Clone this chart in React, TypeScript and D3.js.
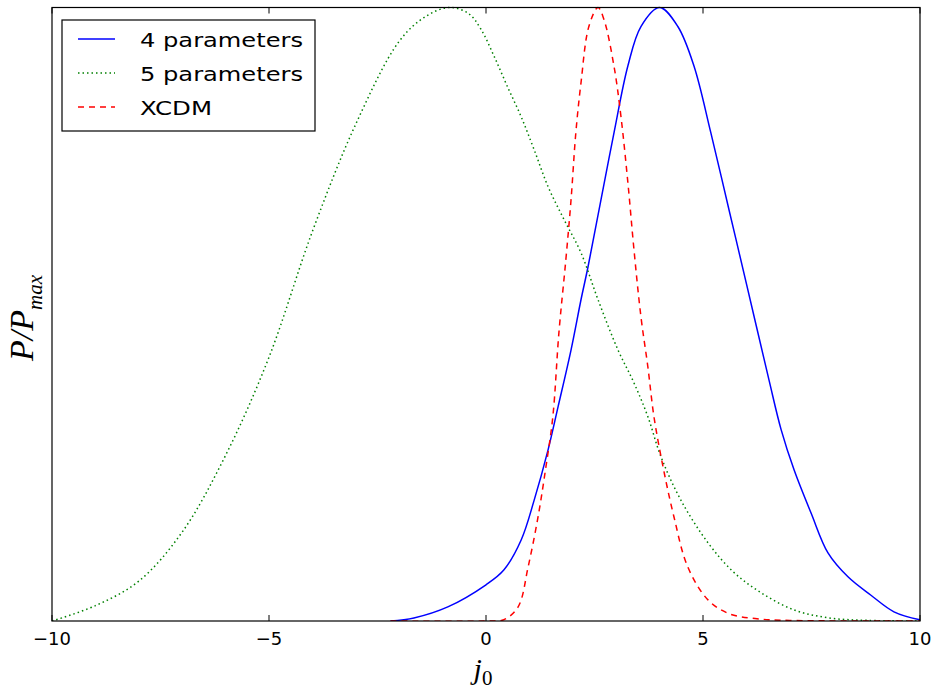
import React from 'react'
import * as d3 from 'd3'

// values: j0 and P/Pmax for each run
const fourParX = [-2.2, -1.66, -0.88, 0, 0.41, 0.81, 1.11, 1.43, 1.66, 1.96, 2.19, 2.35, 2.65, 2.95, 3.27, 3.57, 4.0, 4.42, 4.79, 5.18, 5.6, 6.0, 6.52, 6.8, 7.1, 7.49, 7.88, 8.34, 8.87, 9.4, 10]
const fourParP = [0, 0.005, 0.023, 0.059, 0.083, 0.132, 0.197, 0.279, 0.349, 0.442, 0.524, 0.577, 0.687, 0.796, 0.905, 0.969, 1, 0.969, 0.905, 0.796, 0.67, 0.55, 0.393, 0.312, 0.246, 0.176, 0.111, 0.072, 0.042, 0.015, 0.002]

const fiveParX = [-10, -9, -8, -7, -6, -5, -4, -3, -2, -1.4, -0.85, -0.4, -0.12, 0.19, 0.5, 0.81, 1.11, 1.43, 1.8, 2.19, 2.58, 3.04, 3.41, 3.73, 4.03, 4.49, 5.12, 5.7, 6.34, 7.1, 7.9, 8.8, 10]
const fiveParP = [0, 0.025, 0.065, 0.145, 0.27, 0.43, 0.635, 0.81, 0.945, 0.985, 1, 0.99, 0.965, 0.92, 0.87, 0.822, 0.768, 0.708, 0.654, 0.6, 0.524, 0.442, 0.388, 0.333, 0.268, 0.197, 0.127, 0.08, 0.046, 0.018, 0.005, 0.001, 0]

const xcdmX = [-2.2, 0, 0.41, 0.74, 0.97, 1.2, 1.38, 1.54, 1.68, 1.84, 1.96, 2.07, 2.19, 2.37, 2.58, 2.72, 2.95, 3.11, 3.27, 3.41, 3.57, 3.73, 3.87, 4.08, 4.33, 4.65, 5.12, 5.6, 6.2, 7, 10]
const xcdmP = [0, 0, 0.002, 0.023, 0.088, 0.17, 0.251, 0.333, 0.47, 0.589, 0.687, 0.796, 0.878, 0.969, 1, 0.98, 0.904, 0.822, 0.714, 0.605, 0.496, 0.414, 0.333, 0.251, 0.17, 0.088, 0.034, 0.012, 0.004, 0.001, 0]

const xTicks = [-10, -5, 0, 5, 10]
const seriesNames = ['4 parameters', '5 parameters', 'XCDM']
const legendWidths = [163, 163, 72]

const W = 931
const H = 694
const left = 52
const right = 920
const top = 7.5
const bottom = 621

function App() {
  const x = d3.scaleLinear().domain([-10, 10]).range([left, right])
  const y = d3.scaleLinear().domain([0, 1]).range([bottom, top])

  const line = d3.line<number[]>()
    .x(d => x(d[0]))
    .y(d => y(d[1]))
    .curve(d3.curveCatmullRom.alpha(0.5))

  const series = [
    { name: seriesNames[0], xs: fourParX, ps: fourParP, color: '#0000ff', dash: null },
    { name: seriesNames[1], xs: fiveParX, ps: fiveParP, color: '#008000', dash: '1.5,3' },
    { name: seriesNames[2], xs: xcdmX, ps: xcdmP, color: '#ff0000', dash: '6,5' },
  ]

  const fmt = (v: number) => (v < 0 ? '\u2212' + Math.abs(v) : String(v))

  return (
    <svg width={W} height={H} style={{ position: 'absolute', left: 0, top: 0, background: '#fff' }}
      fontFamily="DejaVu Sans">
      <defs>
        <clipPath id="plot">
          <rect x={left} y={top - 2} width={right - left} height={bottom - top + 2} />
        </clipPath>
      </defs>

      <g clipPath="url(#plot)">
        {series.map(s => (
          <path key={s.name}
            d={line(s.xs.map((v, i) => [v, s.ps[i]])) || ''}
            fill="none" stroke={s.color} strokeWidth={1.5}
            strokeDasharray={s.dash || undefined} />
        ))}
      </g>

      <rect x={left} y={top} width={right - left} height={bottom - top}
        fill="none" stroke="#000" strokeWidth={1.2} />

      {xTicks.map(t => (
        <g key={t}>
          <line x1={x(t)} x2={x(t)} y1={bottom} y2={bottom - 6} stroke="#000" strokeWidth={1} />
          <line x1={x(t)} x2={x(t)} y1={top} y2={top + 6} stroke="#000" strokeWidth={1} />
          <text x={x(t)} y={645} textAnchor="middle" fontSize={18} fill="#000">{fmt(t)}</text>
        </g>
      ))}

      <text x={x(0) - 3} y={679} textAnchor="middle" fontFamily="Liberation Serif" fontStyle="italic" fontSize={30}>
        j<tspan fontStyle="normal" fontSize={21} dy={6}>0</tspan>
      </text>

      <text transform={`translate(33,${318}) rotate(-90)`} textAnchor="middle"
        fontFamily="Liberation Serif" fontStyle="italic" fontSize={34}>
        P/P<tspan fontSize={21} dy={9}>max</tspan>
      </text>

      <g>
        <rect x={62} y={20} width={253} height={111} fill="#fff" stroke="#000" strokeWidth={1.2} />
        {series.map((s, i) => {
          const ry = 39 + i * 34
          return (
            <g key={s.name}>
              <line x1={78} x2={115} y1={ry} y2={ry} stroke={s.color} strokeWidth={1.5}
                strokeDasharray={s.dash || undefined} />
              <text x={140} y={ry + 7.5} fontSize={20} fill="#000"
                textLength={legendWidths[i]} lengthAdjust="spacingAndGlyphs">{s.name}</text>
            </g>
          )
        })}
      </g>
    </svg>
  )
}

export default App
